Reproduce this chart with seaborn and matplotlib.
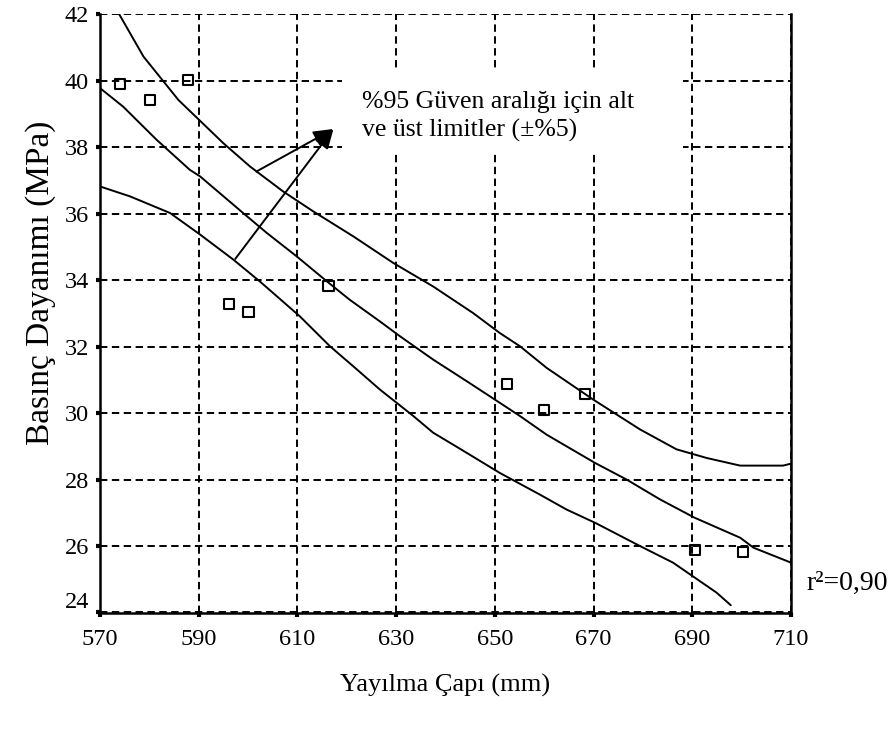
import matplotlib
matplotlib.use("Agg")
import matplotlib.pyplot as plt
from matplotlib.patches import Rectangle
import seaborn as sns
import pandas as pd

# ---- data ----
upper_x = [573.9, 578.8, 585.9, 595.0, 600.4, 607.1, 613.2, 621.3, 629.4, 637.5, 645.6,
           651.0, 655.1, 660.5, 669.9, 679.4, 686.8, 692.9, 699.7, 708.4, 710.0]
upper_y = [42.0, 40.73, 39.42, 38.12, 37.42, 36.67, 36.07, 35.32, 34.52, 33.81, 33.01,
           32.41, 32.01, 31.36, 30.41, 29.51, 28.91, 28.65, 28.42, 28.42, 28.48]

mid_x = [570.0, 574.7, 581.5, 588.2, 590.3, 599.0, 603.8, 609.9, 616.0, 620.6, 626.7, 630.8,
         637.5, 644.3, 651.0, 655.1, 660.5, 670.3, 676.7, 683.5, 690.5, 699.7, 702.4, 710.0]
mid_y = [39.78, 39.22, 38.22, 37.32, 37.12, 36.02, 35.42, 34.71, 33.96, 33.41, 32.76, 32.31,
         31.61, 30.96, 30.31, 29.91, 29.35, 28.50, 28.00, 27.40, 26.85, 26.25, 25.95, 25.50]

low_x = [570.0, 576.1, 584.2, 590.3, 597.0, 602.4, 610.5, 616.6, 621.3, 626.7, 630.1, 633.5,
         637.5, 642.9, 651.0, 659.1, 664.5, 670.3, 679.4, 686.1, 690.5, 694.9, 697.8]
low_y = [36.82, 36.52, 36.02, 35.37, 34.62, 33.96, 32.91, 32.01, 31.41, 30.71, 30.31, 29.91,
         29.41, 28.93, 28.20, 27.55, 27.10, 26.70, 26.00, 25.50, 25.05, 24.60, 24.22]

pts_x = [574.0, 580.2, 587.9, 596.1, 600.1, 616.3, 652.4, 660.0, 668.2, 690.5, 700.3]
pts_y = [39.90, 39.42, 40.03, 33.28, 33.04, 33.83, 30.88, 30.09, 30.57, 25.88, 25.83]

x_ticks = [570, 590, 610, 630, 650, 670, 690, 710]
y_ticks = [24, 26, 28, 30, 32, 34, 36, 38, 40, 42]

arrow_tip = (617.3, 38.55)
arrow_tails = [(601.7, 37.27), (597.4, 34.64)]

annot_text = "%95 Güven aralığı için alt\nve üst limitler (±%5)"
r2_text = "r²=0,90"
x_label = "Yayılma Çapı (mm)"
y_label = "Basınç Dayanımı (MPa)"

# ---- style ----
sns.set_theme(style="white")
plt.rcParams["font.family"] = ["Liberation Serif", "DejaVu Serif"]

fig = plt.figure(figsize=(8.96, 7.29), dpi=100)
ax = fig.add_axes([100/896, 1 - 612.5/729, (791 - 100)/896, (612.5 - 14.3)/729])

curves = pd.concat([
    pd.DataFrame({"x": upper_x, "y": upper_y, "c": "upper"}),
    pd.DataFrame({"x": mid_x, "y": mid_y, "c": "mid"}),
    pd.DataFrame({"x": low_x, "y": low_y, "c": "low"}),
])
sns.lineplot(data=curves, x="x", y="y", units="c", estimator=None, sort=False,
             color="black", lw=1.4, ax=ax, zorder=3)

pts = pd.DataFrame({"x": pts_x, "y": pts_y})
sns.scatterplot(data=pts, x="x", y="y", marker="s", s=55, facecolor="none",
                edgecolor="black", linewidth=1.5, ax=ax, zorder=4)

ax.set_xlim(570, 710)
ax.set_ylim(24, 42)
ax.set_xticks(x_ticks)
ax.set_yticks(y_ticks)
ax.set_axisbelow(True)
ax.grid(True, color="black", lw=1.4, linestyle=(0, (3.8, 2.3)))

for side in ["left", "bottom", "right"]:
    ax.spines[side].set_visible(True)
    ax.spines[side].set_color("black")
    ax.spines[side].set_linewidth(1.8)
ax.spines["top"].set_visible(False)

ax.tick_params(axis="both", which="major", direction="out", length=3, width=3,
               color="black", labelsize=17.5, labelcolor="black")
ax.tick_params(axis="x", pad=9, bottom=True)
ax.tick_params(axis="y", pad=5, left=True)

ax.set_xlabel(x_label, fontsize=19, labelpad=17, color="black")
ax.set_ylabel(y_label, fontsize=24, color="black")
ax.yaxis.set_label_coords(-0.0637, 0.551)

fig.canvas.draw()
ylabels = ax.get_yticklabels()
ylabels[0].set_verticalalignment("bottom")

# white box behind the annotation text
ax.add_patch(Rectangle((619.0, 37.83), 688.1 - 619.0, 40.39 - 37.83,
                       facecolor="white", edgecolor="none", zorder=1))
ax.text(623.1, 38.93, annot_text, fontsize=18.5, ha="left", va="center",
        linespacing=1.3, color="black", zorder=5)

for tail in arrow_tails:
    ax.annotate("", xy=arrow_tip, xytext=tail,
                arrowprops=dict(arrowstyle="-|>,head_length=0.6,head_width=0.24",
                                color="black", lw=1.4, mutation_scale=20,
                                shrinkA=0, shrinkB=0), zorder=5)

fig.text(806/896, 1 - 583/729, r2_text, fontsize=20, ha="left", va="center", color="black")

fig.savefig("out.png", dpi=100)
